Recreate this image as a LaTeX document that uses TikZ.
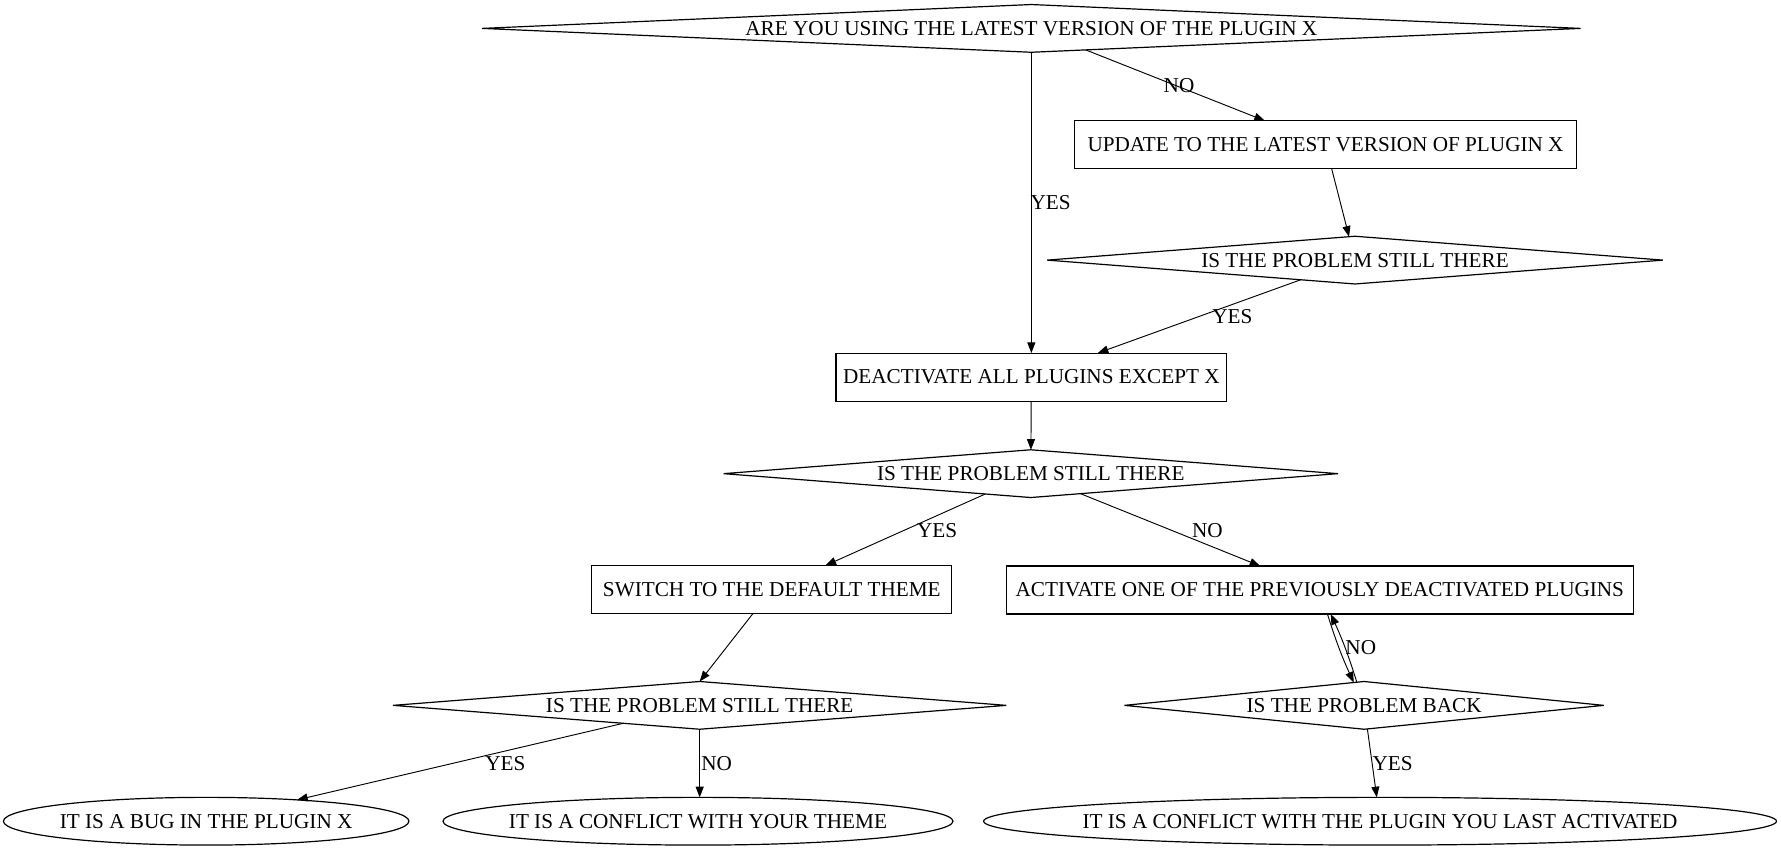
\documentclass[tikz,border=0pt]{standalone}
\usepackage{fontspec}
\setmainfont{Liberation Serif}
\usetikzlibrary{shapes.geometric,arrows.meta}
\newcommand\zb[1]{\makebox[0pt]{#1}}
\begin{document}
\begin{tikzpicture}[x=0.8518pt,y=-0.8518pt,
  every node/.style={font=\fontsize{15.9}{19}\selectfont, inner sep=0pt, outer sep=0pt},
  box/.style={draw, rectangle, minimum height=36pt, line width=0.9pt},
  dia/.style={draw, diamond, aspect=1, minimum height=35.8pt, line width=0.9pt},
  ell/.style={draw, ellipse, minimum height=35.8pt, line width=0.9pt},
  arr/.style={-{Triangle[length=8pt,width=6pt]}, line width=0.7pt},
  lbl/.style={font=\fontsize{15.9}{19}\selectfont}
]
\useasboundingbox (0,0) rectangle (1568,750);

\node[dia, minimum width=823.7pt] (q1) at (908,25) {\zb{ARE YOU USING THE LATEST VERSION OF THE PLUGIN X}};
\node[box, minimum width=376.5pt] (upd) at (1167,127.5) {\zb{UPDATE TO THE LATEST VERSION OF PLUGIN X}};
\node[dia, minimum width=461.7pt] (q2) at (1193,229) {\zb{IS THE PROBLEM STILL THERE}};
\node[box, minimum width=293pt] (deact) at (908,332) {\zb{DEACTIVATE ALL PLUGINS EXCEPT X}};
\node[dia, minimum width=460.8pt] (q3) at (907.5,417) {\zb{IS THE PROBLEM STILL THERE}};
\node[box, minimum width=270pt] (sw) at (679.5,519) {\zb{SWITCH TO THE DEFAULT THEME}};
\node[box, minimum width=470.2pt] (act) at (1162,519.5) {\zb{ACTIVATE ONE OF THE PREVIOUSLY DEACTIVATED PLUGINS}};
\node[dia, minimum width=460pt] (q4) at (616,621) {\zb{IS THE PROBLEM STILL THERE}};
\node[dia, minimum width=359.5pt] (q5) at (1201,621) {\zb{IS THE PROBLEM BACK}};
\node[ell, minimum width=304.1pt] (e1) at (181.5,723) {\zb{IT IS A BUG IN THE PLUGIN X}};
\node[ell, minimum width=382.5pt] (e2) at (614.5,723) {\zb{IT IS A CONFLICT WITH YOUR THEME}};
\node[ell, minimum width=594.6pt] (e3) at (1215,723) {\zb{IT IS A CONFLICT WITH THE PLUGIN YOU LAST ACTIVATED}};

\draw[arr] (q1) -- (deact);
\draw[arr] (q1) -- (upd);
\draw[arr] (upd) -- (q2);
\draw[arr] (q2) -- (deact);
\draw[arr] (deact) -- (q3);
\draw[arr] (q3) -- (sw);
\draw[arr] (q3) -- (act);
\draw[arr] (sw) -- (q4.north);
\draw[arr] (act) to[bend right=3.5] (q5);
\draw[arr] (q5) to[bend right=3.5] (act);
\draw[arr] (q4) -- (e1);
\draw[arr] (q4.south) -- (q4.south |- e2.north);
\draw[arr] (q5) -- (e3);

\node[lbl] (l1) at (925,178) {YES};
\node[lbl] (l2) at (1038,75) {NO};
\node[lbl] (l3) at (1085,279) {YES};
\node[lbl] (l4) at (825,467) {YES};
\node[lbl] (l5) at (1063,467) {NO};
\node[lbl] (l6) at (1198,570) {NO};
\node[lbl] (l7) at (445,672) {YES};
\node[lbl] (l8) at (631,672) {NO};
\node[lbl] (l9) at (1226,672) {YES};
\end{tikzpicture}
\end{document}
